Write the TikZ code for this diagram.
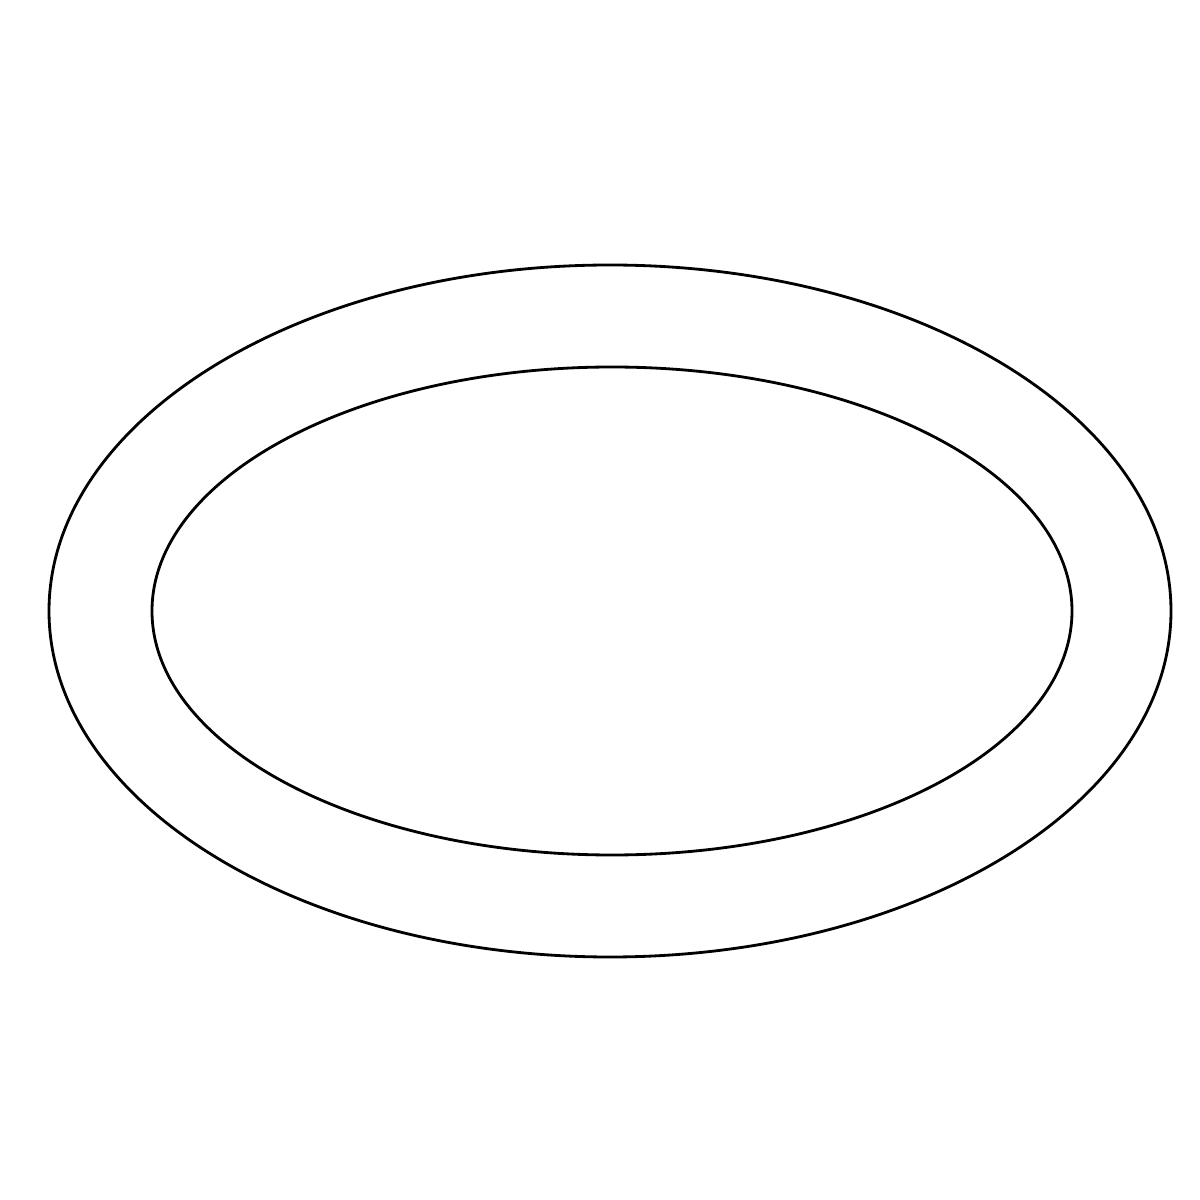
\documentclass[tikz,border=0pt]{standalone}
\begin{document}
\begin{tikzpicture}[line width=.8pt]
    \useasboundingbox (0,0) rectangle (12,12);
    \draw (6.10,5.89) ellipse [x radius=5.61, y radius=3.46];
    \draw (6.12,5.89) ellipse [x radius=4.60, y radius=2.44];
\end{tikzpicture}
\end{document}
